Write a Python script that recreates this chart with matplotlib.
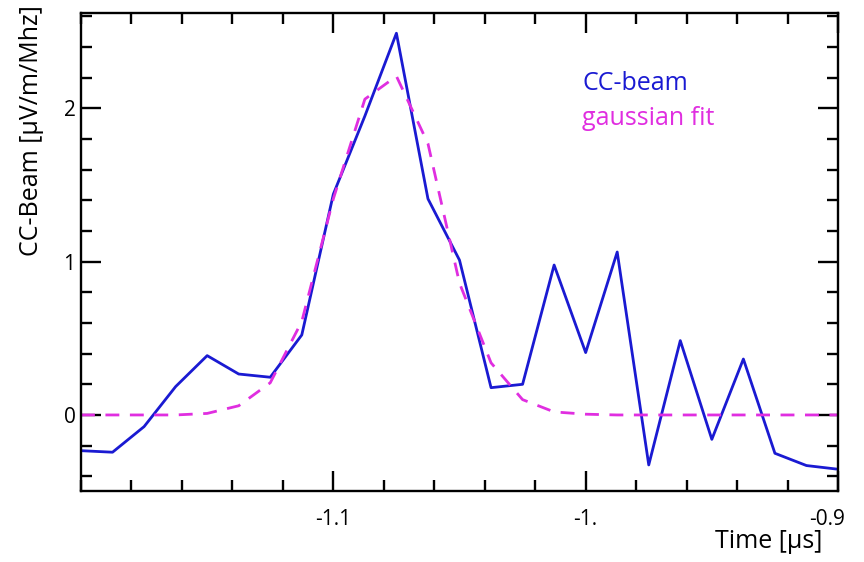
import matplotlib
matplotlib.use("Agg")
import matplotlib.pyplot as plt
import matplotlib.transforms as mtransforms
from matplotlib.ticker import MultipleLocator

plt.rcParams["font.family"] = ["Open Sans", "DejaVu Sans"]

# Sample times [µs] (12.5 ns spacing)
time_us = [-1.2, -1.1875, -1.175, -1.1625, -1.15, -1.1375, -1.125, -1.1125,
           -1.1, -1.0875, -1.075, -1.0625, -1.05, -1.0375, -1.025, -1.0125,
           -1.0, -0.9875, -0.975, -0.9625, -0.95, -0.9375, -0.925, -0.9125, -0.9]

# Cross-correlation beam amplitude [µV/m/MHz]
cc_beam = [-0.233, -0.243, -0.076, 0.185, 0.387, 0.267, 0.246, 0.522,
           1.44, 1.95, 2.49, 1.41, 1.01, 0.178, 0.20, 0.978,
           0.407, 1.063, -0.326, 0.485, -0.159, 0.365, -0.25, -0.33, -0.354]

# Gaussian fit evaluated at the same times
gauss_fit = [0.0, 0.0, 0.0, 0.0, 0.01, 0.06, 0.21, 0.61,
             1.41, 2.06, 2.21, 1.77, 0.86, 0.34, 0.10, 0.02,
             0.005, 0.0, 0.0, 0.0, 0.0, 0.0, 0.0, 0.0, 0.0]

xtick_vals = [-1.1, -1.0, -0.9]
xtick_labels = ["-1.1", "-1.", "-0.9"]
ytick_vals = [0, 1, 2]
ytick_labels = ["0", "1", "2"]

BLUE = "#1a1ad2"
MAGENTA = "#e02ee0"

W, H = 864, 562
fig = plt.figure(figsize=(W / 100, H / 100), dpi=100)
ax = fig.add_axes([81 / W, 1 - 491 / H, (838 - 81) / W, (491 - 13) / H])

ax.plot(time_us, cc_beam, color=BLUE, lw=2.0)
ax.plot(time_us, gauss_fit, color=MAGENTA, lw=2.0, dashes=(5, 3.8))

ax.set_xlim(-1.2, -0.9)
ax.set_ylim(-0.496, 2.622)

ax.set_xticks(xtick_vals)
ax.set_xticklabels(xtick_labels)
ax.set_yticks(ytick_vals)
ax.set_yticklabels(ytick_labels)
ax.xaxis.set_minor_locator(MultipleLocator(0.02))
ax.yaxis.set_minor_locator(MultipleLocator(0.2))

for s in ax.spines.values():
    s.set_linewidth(1.7)

ax.tick_params(which="both", direction="in", top=True, right=True,
               width=1.7, labelsize=15)
ax.tick_params(which="major", length=14.4)
ax.tick_params(which="minor", length=7.9)
ax.tick_params(axis="x", which="major", pad=13)
ax.tick_params(axis="y", which="major", pad=4)

# keep the last x tick label inside the figure edge
last = ax.xaxis.get_major_ticks()[-1].label1
last.set_transform(last.get_transform() +
                   mtransforms.ScaledTranslation(-11 / 100, 0, fig.dpi_scale_trans))

fig.text(32 / W, 1 - 131 / H, "CC-Beam [µV/m/Mhz]", rotation=90,
         ha="center", va="center", fontsize=18)
fig.text(822 / W, 1 - 548 / H, "Time [µs]", ha="right", va="baseline",
         fontsize=18)

fig.text(582 / W, 1 - 90 / H, "CC-beam", color=BLUE, fontsize=18,
         va="baseline")
fig.text(582 / W, 1 - 125 / H, "gaussian fit", color=MAGENTA, fontsize=18,
         va="baseline")

fig.savefig("out.png", dpi=100)
